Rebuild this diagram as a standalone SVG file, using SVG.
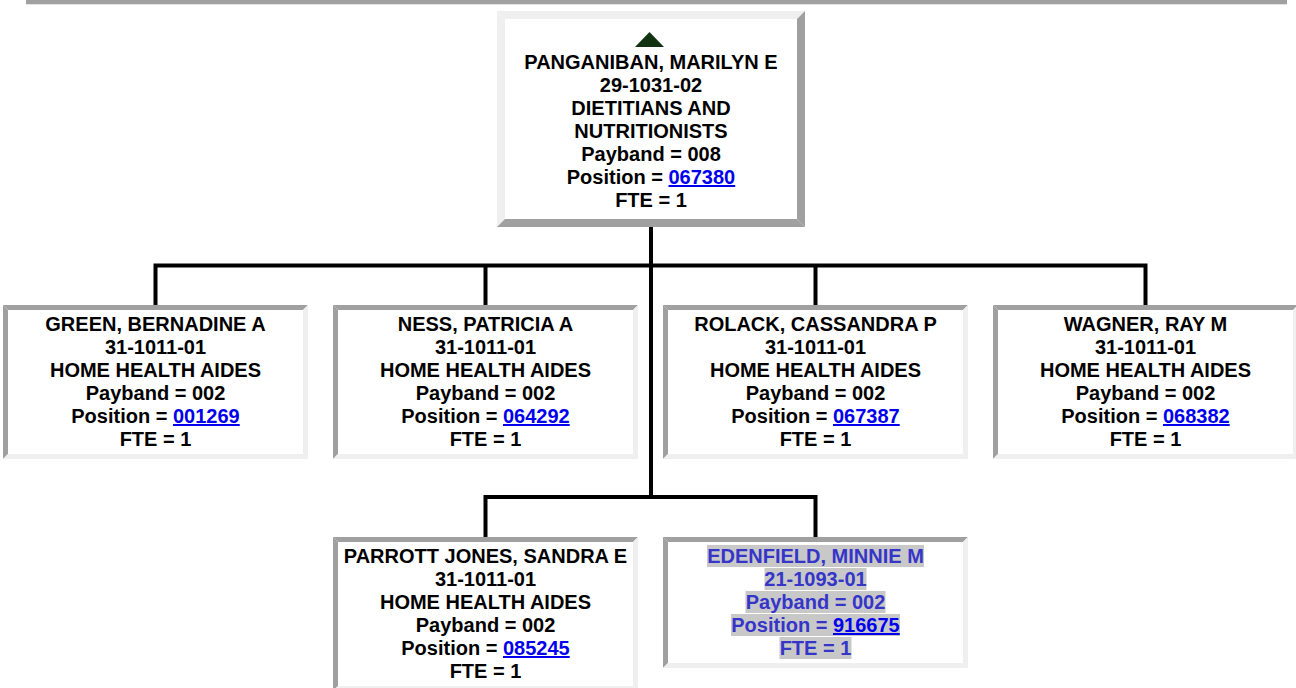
<svg xmlns="http://www.w3.org/2000/svg" xmlns:xlink="http://www.w3.org/1999/xlink" width="1296" height="688" viewBox="0 0 1296 688">
<style>
  text { font-family: "Liberation Sans", Arial, sans-serif; font-weight: bold; font-size: 20px; text-anchor: middle; fill: #000; }
  .lnk { fill: #0000ee; text-decoration: underline; }
  .hl text { fill: #3535c8; }
  .hl .lnk { fill: #0000ee; }
  .hlbg { fill: #c8c8c8; }
  .dk { fill: #a0a0a0; }
  .lt { fill: #efefef; }
  .conn { fill: none; stroke: #000; stroke-width: 4; stroke-linejoin: miter; stroke-linecap: butt; }
</style>
<defs>
  <g id="box6">
    <rect x="0" y="0" width="305" height="154" fill="#fff"/>
    <polygon class="dk" points="0,0 305,0 300,5 5,5"/>
    <polygon class="dk" points="0,0 5,5 5,149 0,154"/>
    <polygon class="lt" points="0,154 5,149 300,149 305,154"/>
    <polygon class="lt" points="305,0 305,154 300,149 300,5"/>
  </g>
  <g id="box5">
    <rect x="0" y="0" width="305" height="131" fill="#fff"/>
    <polygon class="dk" points="0,0 305,0 300,5 5,5"/>
    <polygon class="dk" points="0,0 5,5 5,126 0,131"/>
    <polygon class="lt" points="0,131 5,126 300,126 305,131"/>
    <polygon class="lt" points="305,0 305,131 300,126 300,5"/>
  </g>
</defs>
<rect width="1296" height="688" fill="#fff"/>
<g id="topbar">
  <rect x="26" y="0" width="1261" height="4" fill="#a0a0a0"/>
  <rect x="26" y="4" width="1261" height="1" fill="#e4e4e4"/>
</g>
<g id="connectors">
  <path class="conn" d="M155.5 305 V265.5 H1145.5 V305"/>
  <path class="conn" d="M485.5 265.5 V305"/>
  <path class="conn" d="M815.5 265.5 V305"/>
  <path class="conn" d="M651 226 V497"/>
  <path class="conn" d="M485.5 537 V497 H815.5 V537"/>
</g>
<g id="node-panganiban">
  <rect x="497" y="11" width="308" height="216" fill="#fff"/>
  <polygon class="lt" points="497,11 805,11 797,19 505,19"/>
  <polygon class="lt" points="497,11 505,19 505,219 497,227"/>
  <polygon class="dk" points="497,227 505,219 797,219 805,227"/>
  <polygon class="dk" points="805,11 805,227 797,219 797,19"/>
  <polygon points="649.5,32 635,47 664,47" fill="#113311"/>
  <text x="651" y="69">PANGANIBAN, MARILYN E</text>
  <text x="651" y="92">29-1031-02</text>
  <text x="651" y="115">DIETITIANS AND</text>
  <text x="651" y="138">NUTRITIONISTS</text>
  <text x="651" y="161">Payband = 008</text>
  <text x="651" y="184">Position = <tspan class="lnk">067380</tspan></text>
  <text x="651" y="207">FTE = 1</text>
</g>
<g id="node-green">
  <use xlink:href="#box6" x="3" y="305"/>
  <text x="155.5" y="331">GREEN, BERNADINE A</text>
  <text x="155.5" y="354">31-1011-01</text>
  <text x="155.5" y="377">HOME HEALTH AIDES</text>
  <text x="155.5" y="400">Payband = 002</text>
  <text x="155.5" y="423">Position = <tspan class="lnk">001269</tspan></text>
  <text x="155.5" y="446">FTE = 1</text>
</g>
<g id="node-ness">
  <use xlink:href="#box6" x="333" y="305"/>
  <text x="485.5" y="331">NESS, PATRICIA A</text>
  <text x="485.5" y="354">31-1011-01</text>
  <text x="485.5" y="377">HOME HEALTH AIDES</text>
  <text x="485.5" y="400">Payband = 002</text>
  <text x="485.5" y="423">Position = <tspan class="lnk">064292</tspan></text>
  <text x="485.5" y="446">FTE = 1</text>
</g>
<g id="node-rolack">
  <use xlink:href="#box6" x="663" y="305"/>
  <text x="815.5" y="331">ROLACK, CASSANDRA P</text>
  <text x="815.5" y="354">31-1011-01</text>
  <text x="815.5" y="377">HOME HEALTH AIDES</text>
  <text x="815.5" y="400">Payband = 002</text>
  <text x="815.5" y="423">Position = <tspan class="lnk">067387</tspan></text>
  <text x="815.5" y="446">FTE = 1</text>
</g>
<g id="node-wagner">
  <use xlink:href="#box6" x="993" y="305"/>
  <text x="1145.5" y="331">WAGNER, RAY M</text>
  <text x="1145.5" y="354">31-1011-01</text>
  <text x="1145.5" y="377">HOME HEALTH AIDES</text>
  <text x="1145.5" y="400">Payband = 002</text>
  <text x="1145.5" y="423">Position = <tspan class="lnk">068382</tspan></text>
  <text x="1145.5" y="446">FTE = 1</text>
</g>
<g id="node-parrott">
  <use xlink:href="#box6" x="333" y="537"/>
  <text x="485.5" y="563">PARROTT JONES, SANDRA E</text>
  <text x="485.5" y="586">31-1011-01</text>
  <text x="485.5" y="609">HOME HEALTH AIDES</text>
  <text x="485.5" y="632">Payband = 002</text>
  <text x="485.5" y="655">Position = <tspan class="lnk">085245</tspan></text>
  <text x="485.5" y="678">FTE = 1</text>
</g>
<g id="node-edenfield" class="hl">
  <use xlink:href="#box5" x="663" y="537"/>
  <rect class="hlbg" x="707" y="545" width="217" height="22"/>
  <rect class="hlbg" x="764.5" y="568" width="102" height="22"/>
  <rect class="hlbg" x="745.5" y="591" width="140" height="22"/>
  <rect class="hlbg" x="731" y="614" width="169" height="22"/>
  <rect class="hlbg" x="779.5" y="637" width="72" height="22"/>
  <text x="815.5" y="563">EDENFIELD, MINNIE M</text>
  <text x="815.5" y="586">21-1093-01</text>
  <text x="815.5" y="609">Payband = 002</text>
  <text x="815.5" y="632">Position = <tspan class="lnk">916675</tspan></text>
  <text x="815.5" y="655">FTE = 1</text>
</g>
</svg>
